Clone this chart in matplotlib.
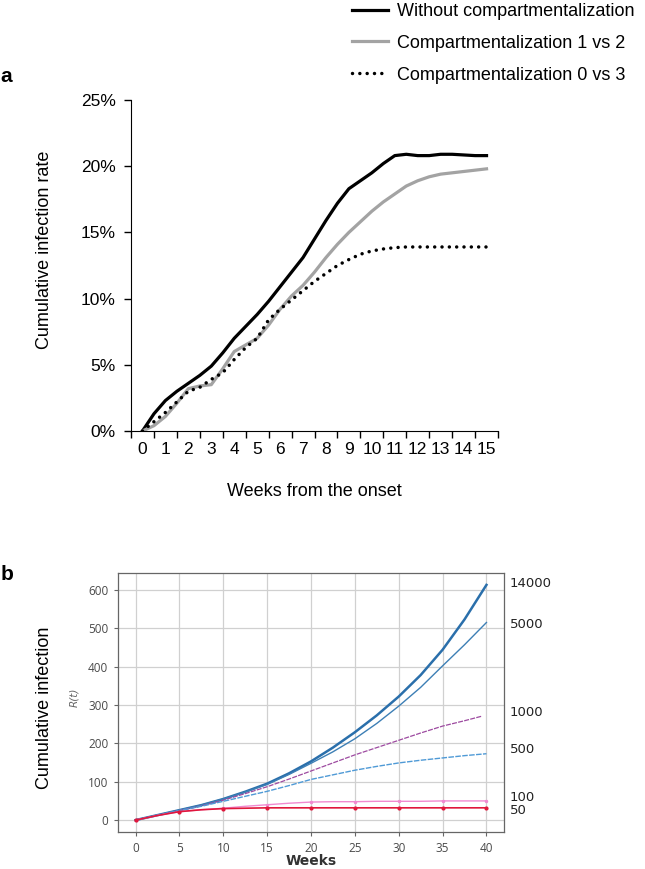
import matplotlib
matplotlib.use("Agg")
import matplotlib.pyplot as plt
from matplotlib.ticker import FixedLocator, PercentFormatter

plt.rcParams['font.family'] = ['Liberation Sans', 'DejaVu Sans']

# ---------------- Panel a data ----------------
weeks_a = [0, 0.5, 1, 1.5, 2, 2.5, 3, 3.5, 4, 4.5, 5, 5.5, 6, 6.5, 7, 7.5, 8, 8.5,
           9, 9.5, 10, 10.5, 11, 11.5, 12, 12.5, 13, 13.5, 14, 14.5, 15]
without_comp = [0, 1.3, 2.3, 3.0, 3.6, 4.2, 4.9, 5.9, 7.0, 7.9, 8.8, 9.8, 10.9, 12.0,
                13.1, 14.5, 15.9, 17.2, 18.3, 18.9, 19.5, 20.2, 20.8, 20.9, 20.8, 20.8,
                20.9, 20.9, 20.85, 20.8, 20.8]
comp_1v2 = [0, 0.4, 1.1, 2.1, 3.2, 3.4, 3.5, 4.7, 6.0, 6.5, 7.0, 8.0, 9.2, 10.2, 11.0,
            12.0, 13.1, 14.1, 15.0, 15.8, 16.6, 17.3, 17.9, 18.5, 18.9, 19.2, 19.4,
            19.5, 19.6, 19.7, 19.8]
comp_0v3 = [0, 0.7, 1.4, 2.2, 3.0, 3.3, 3.9, 4.4, 5.4, 6.3, 7.0, 8.4, 9.2, 9.9, 10.6,
            11.3, 11.9, 12.5, 12.95, 13.35, 13.6, 13.75, 13.85, 13.9, 13.9, 13.9, 13.9,
            13.9, 13.9, 13.9, 13.9]
labels_a = ["Without compartmentalization", "Compartmentalization 1 vs 2",
            "Compartmentalization 0 vs 3"]
week_ticks_a = list(range(0, 16))

# ---------------- Panel b data ----------------
weeks_b = [0, 2.5, 5, 7.5, 10, 12.5, 15, 17.5, 20, 22.5, 25, 27.5, 30, 32.5, 35, 37.5, 40]
weeks_b_1000 = [0, 2.5, 5, 7.5, 10, 12.5, 15, 17.5, 20, 22.5, 25, 27.5, 30, 32.5, 35, 37.5, 39.5]
r_14000 = [0, 13, 26, 39, 55, 74, 95, 122, 153, 189, 229, 273, 322, 378, 444, 523, 613]
r_5000 = [0, 13, 26, 39, 55, 73, 93, 119, 148, 178, 212, 252, 297, 346, 402, 457, 515]
r_1000 = [0, 13, 25, 37, 52, 69, 87, 107, 128, 149, 170, 189, 208, 227, 245, 259, 271]
r_500 = [0, 13, 25, 36, 49, 62, 75, 90, 106, 118, 130, 140, 149, 156, 162, 168, 173]
r_100 = [0, 12, 22, 27, 31, 36, 40, 44, 47, 48, 48, 49, 49, 49, 50, 50, 50]
r_50 = [0, 12, 22, 27, 30, 31, 32, 32, 32, 32, 32, 32, 32, 32, 32, 32, 32]
labels_b = ["14000", "5000", "1000", "500", "100", "50"]

W, H = 645, 869
fig = plt.figure(figsize=(W / 100, H / 100), dpi=100)

# ================= Panel a =================
axa = fig.add_axes([131 / W, 1 - 431 / H, (498 - 131) / W, (431 - 100) / H])
axa.plot(weeks_a, without_comp, color='black', lw=2.3, label=labels_a[0],
         solid_joinstyle='round')
axa.plot(weeks_a, comp_1v2, color='#a3a3a3', lw=2.3, label=labels_a[1],
         solid_joinstyle='round')
axa.plot(weeks_a, comp_0v3, color='black', lw=2.5, linestyle=(0, (0.01, 2.1)),
         dash_capstyle='round', label=labels_a[2])
axa.set_xlim(-0.5, 15.5)
axa.set_ylim(0, 25)
axa.spines['top'].set_visible(False)
axa.spines['right'].set_visible(False)
axa.yaxis.set_major_locator(FixedLocator([0, 5, 10, 15, 20, 25]))
axa.yaxis.set_major_formatter(PercentFormatter(decimals=0))
axa.set_xticks(week_ticks_a)
axa.set_xticklabels([str(w) for w in week_ticks_a])
axa.set_xticks([w - 0.5 for w in week_ticks_a] + [15.5], minor=True)
axa.tick_params(axis='x', which='major', length=0, pad=8, labelsize=12.5)
axa.tick_params(axis='x', which='minor', length=5, width=1, direction='out')
axa.tick_params(axis='y', length=5, width=1, direction='out', labelsize=12.5, pad=6)
fig.text(314 / W, 1 - 492 / H, "Weeks from the onset",
         ha='center', va='center', fontsize=13)
fig.text(45 / W, 1 - 250 / H, "Cumulative infection rate", rotation=90,
         ha='center', va='center', fontsize=13)
fig.text(6 / W, 1 - 77 / H, "a", fontsize=15, fontweight='bold', ha='center', va='center')
leg = axa.legend(loc='upper left', bbox_to_anchor=(352 / W, 1 - 3 / H),
                 bbox_transform=fig.transFigure, frameon=False, fontsize=13,
                 handlelength=2.0, handletextpad=0.5, labelspacing=0.82,
                 borderpad=0, borderaxespad=0)

# ================= Panel b =================
gray = '#4a4a4a'
axb = fig.add_axes([118 / W, 1 - 832 / H, (504 - 118) / W, (832 - 573) / H])
axb.plot(weeks_b, r_14000, color='#2a6fab', lw=1.8)
axb.plot(weeks_b, r_5000, color='#3d7fb5', lw=1.0)
axb.plot(weeks_b_1000, r_1000, color='#9d4aa0', lw=0.9, linestyle=(0, (4, 1)))
axb.plot(weeks_b, r_500, color='#4f9ad6', lw=1.0, linestyle=(0, (4, 1)))
axb.plot(weeks_b, r_100, color='#f08ad0', lw=1.0, marker='o', markersize=1.5,
         markevery=slice(0, None, 2))
axb.plot(weeks_b, r_50, color='#e0173c', lw=1.2, marker='o', markersize=2,
         markevery=slice(0, None, 2))
axb.set_xlim(-2, 42)
axb.set_ylim(-31, 644)
axb.set_xticks([0, 5, 10, 15, 20, 25, 30, 35, 40])
axb.set_yticks([0, 100, 200, 300, 400, 500, 600])
axb.grid(True, color='#d0d0d0', lw=0.9)
axb.set_axisbelow(True)
for s in axb.spines.values():
    s.set_color('#666666')
    s.set_linewidth(0.9)
axb.tick_params(length=3, width=0.8, color='#666666', labelcolor=gray, labelsize=8.5,
                pad=4)
for lab in axb.get_xticklabels() + axb.get_yticklabels():
    lab.set_family('Open Sans')
fig.text(311 / W, 1 - 861 / H, "Weeks", ha='center', va='center',
         fontsize=10, color='#333333', family='DejaVu Sans', fontweight='bold')
fig.text(74 / W, 1 - 697 / H, "R(t)", rotation=90, ha='center',
         va='center', fontsize=7.5, color='#666666', style='italic', family='DejaVu Sans')
fig.text(45 / W, 1 - 708 / H, "Cumulative infection", rotation=90, ha='center',
         va='center', fontsize=13)
fig.text(7 / W, 1 - 574 / H, "b", fontsize=15, fontweight='bold', ha='center', va='center')

ends = [r_14000[-1], r_5000[-1], r_1000[-1], r_500[-1], r_100[-1], r_50[-1]]
px_shift = [-1, 2, -4, -4, -3, 3]
for lab, v, dy in zip(labels_b, ends, px_shift):
    axb.annotate(lab, xy=(1.0, v), xycoords=('axes fraction', 'data'),
                 xytext=(4, -dy / 1.39), textcoords='offset points', ha='left',
                 va='center', fontsize=9.5, color='#222222', family='DejaVu Sans')

fig.savefig("out.png", dpi=100)
